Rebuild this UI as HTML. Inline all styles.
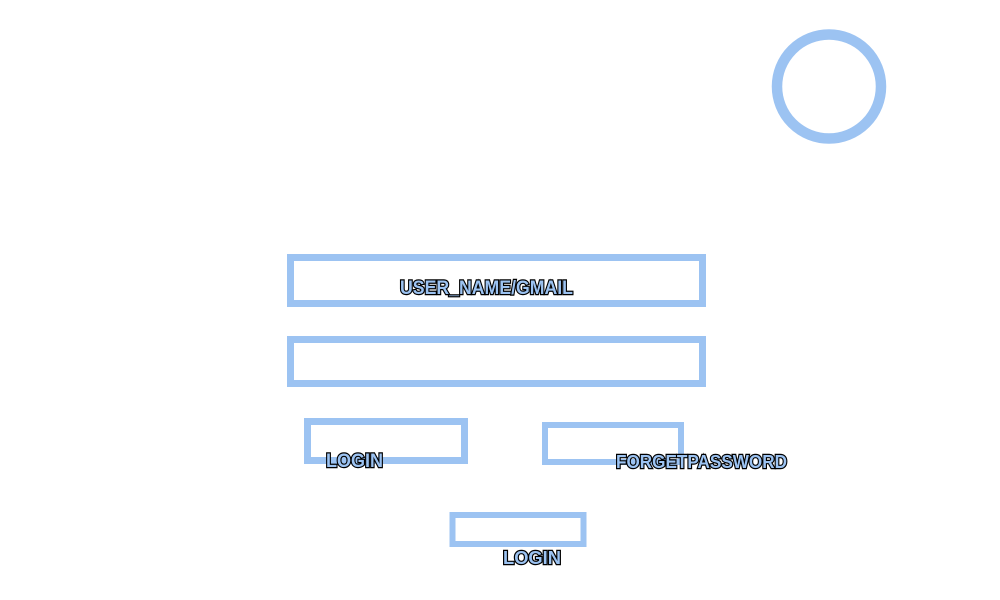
<!DOCTYPE html>
<html><head><meta charset="utf-8"><style>
html,body{margin:0;padding:0;background:#fff;width:1000px;height:600px;overflow:hidden}
text{font-family:"Liberation Sans",sans-serif;font-weight:bold;fill:#9cc3f2;stroke:#000;stroke-width:2.4px;paint-order:stroke;}
</style></head><body>
<svg width="1000" height="600" viewBox="0 0 1000 600" xmlns="http://www.w3.org/2000/svg">
<g fill="none" stroke="#9cc3f2">
<circle cx="829" cy="86.5" r="52" stroke-width="10.5"/>
<rect x="290.5" y="257.5" width="412" height="46" stroke-width="7"/>
<rect x="290.5" y="339.5" width="412" height="44" stroke-width="7"/>
<rect x="307.5" y="421.5" width="157" height="39" stroke-width="7"/>
<rect x="545" y="425" width="136" height="37" stroke-width="6"/>
<rect x="452.5" y="515" width="131" height="29" stroke-width="6"/>
</g>
<text x="400" y="294" font-size="19" textLength="173" lengthAdjust="spacingAndGlyphs">USER_NAME/GMAIL</text>
<text x="326" y="467" font-size="19" textLength="57" lengthAdjust="spacingAndGlyphs">LOGIN</text>
<text x="616" y="468" font-size="18" textLength="171" lengthAdjust="spacingAndGlyphs">FORGETPASSWORD</text>
<text x="503" y="564" font-size="18" textLength="58" lengthAdjust="spacingAndGlyphs">LOGIN</text>
</svg>
</body></html>
